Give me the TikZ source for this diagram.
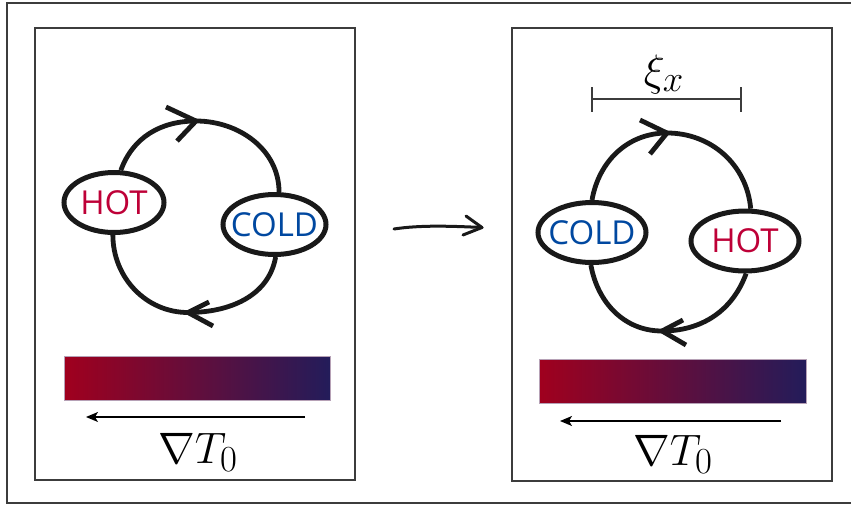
\documentclass[tikz,border=0pt]{standalone}
\usepackage{fontspec}
\newfontfamily\labfont{Open Sans}
\usetikzlibrary{shapes.geometric,arrows.meta}
\definecolor{hotc}{RGB}{190,0,55}
\definecolor{coldc}{RGB}{0,72,160}
\definecolor{gradL}{RGB}{160,0,30}
\definecolor{gradR}{RGB}{35,28,90}
\definecolor{loopc}{RGB}{25,25,25}
\definecolor{framec}{RGB}{60,60,60}
\newcommand{\blobtext}[1]{\makebox[0pt]{\labfont\fontsize{33}{36}\selectfont #1}}
\tikzset{
  blob/.style={ellipse, draw=loopc, line width=5pt, fill=white, inner sep=0pt,
    minimum height=60pt},
  loopline/.style={draw=loopc, line width=4.8pt},
  chev/.style={draw=loopc, line width=4.8pt, line join=miter},
  panel/.style={draw=framec, line width=1.4pt},
  gradbar/.style={left color=gradL, right color=gradR, draw=gradL!30!gradR!40!white, line width=0.5pt},
  gradarrow/.style={draw=black, line width=1.3pt, -{Stealth[length=12pt,width=10pt,inset=3pt]}},
  bigmath/.style={font=\Huge, scale=1.77, inner sep=0pt},
}
\begin{document}
\begin{tikzpicture}[x=1pt,y=1pt]
\useasboundingbox (0,0) rectangle (851,-506);
% outer frame
\draw[draw=framec, line width=1.6pt] (7,-3) rectangle (853,-503);
% panels
\draw[panel] (35,-28) rectangle (355,-480);
\draw[panel] (512,-28) rectangle (832,-481);

% ---------- left panel ----------
\node[blob, minimum width=100pt, text=hotc] (hotL) at (114,-202.5) {\blobtext{HOT}};
\node[blob, minimum width=103pt, text=coldc] (coldL) at (274.5,-224.5) {\blobtext{COLD}};
\coordinate (topL) at (196,-121);
\coordinate (botL) at (188,-312.5);
\draw[loopline] (hotL.78) to[out=70,in=180] (topL) to[out=0,in=90] (coldL.82);
\draw[loopline] (hotL.268) to[out=-90,in=180] (botL) to[out=0,in=-100] (coldL.272);
\draw[chev] (166,-107) -- (topL) -- (177,-141);
\draw[chev] (209,-302) -- (botL) -- (213,-326);

\shade[gradbar] (64,-356) rectangle (330,-400);
\coordinate (gaL1) at (305,-417);
\coordinate (gaL2) at (86,-417);
\draw[gradarrow] (gaL1) -- (gaL2);
\node[bigmath, anchor=base] (nablaL) at (198,-463) {$\nabla T_0$};

% ---------- middle arrow ----------
\coordinate (mA) at (394,-229);
\coordinate (mB) at (482,-227.5);
\draw[line width=3pt, loopc, line cap=round] (mA) .. controls (420,-225) and (450,-226) .. (mB);
\draw[line width=3pt, loopc, line cap=round, line join=round] (466,-216) -- (mB) -- (463,-235);

% ---------- right panel ----------
\node[blob, minimum width=108pt, text=coldc] (coldR) at (592,-232.5) {\blobtext{COLD}};
\node[blob, minimum width=108pt, text=hotc] (hotR) at (745,-241) {\blobtext{HOT}};
\coordinate (topR) at (667,-133);
\coordinate (botR) at (662,-331);
\draw[loopline] (coldR.90) to[out=80,in=180] (topR) to[out=0,in=95] (hotR.80);
\draw[loopline] (coldR.268) to[out=-80,in=180] (botR) to[out=0,in=-110] (hotR.272);
\draw[chev] (640,-120) -- (topR) -- (650,-154);
\draw[chev] (683,-320) -- (botR) -- (686,-345);

% scale bar
\coordinate (sb1) at (592,-99);
\coordinate (sb2) at (741,-99);
\draw[draw=framec, line width=1.4pt] (sb1) -- (sb2);
\draw[draw=framec, line width=1.4pt] ([yshift=12pt]sb1) -- ([yshift=-13pt]sb1);
\draw[draw=framec, line width=1.4pt] ([yshift=12pt]sb2) -- ([yshift=-13pt]sb2);
\node[bigmath, anchor=base] (xiR) at (664,-85) {$\xi_x$};

\shade[gradbar] (539,-359) rectangle (806,-403);
\coordinate (gaR1) at (781,-421);
\coordinate (gaR2) at (560,-421);
\draw[gradarrow] (gaR1) -- (gaR2);
\node[bigmath, anchor=base] (nablaR) at (673,-465) {$\nabla T_0$};
\end{tikzpicture}
\end{document}
